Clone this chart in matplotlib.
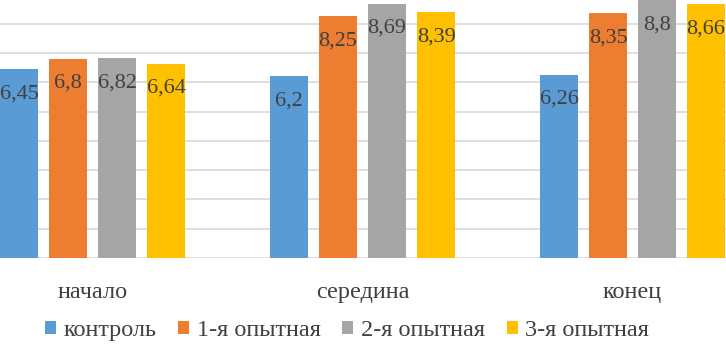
import numpy as np
import matplotlib
matplotlib.use("Agg")
import matplotlib.pyplot as plt

FONT = 'Liberation Serif'
plt.rcParams['font.family'] = FONT

categories = ["начало", "середина", "конец"]
series_names = ["контроль", "1-я опытная", "2-я опытная", "3-я опытная"]
control = [6.45, 6.2, 6.26]
exp1 = [6.8, 8.25, 8.35]
exp2 = [6.82, 8.69, 8.8]
exp3 = [6.64, 8.39, 8.66]
labels = [["6,45", "6,2", "6,26"],
          ["6,8", "8,25", "8,35"],
          ["6,82", "8,69", "8,8"],
          ["6,64", "8,39", "8,66"]]
colors = ["#5B9BD5", "#ED7D31", "#A5A5A5", "#FFC000"]

fig = plt.figure(figsize=(7.26, 3.44), dpi=100)
ax = fig.add_axes([0, 0.25, 1, 0.75])

x = np.arange(len(categories))
width = 38 / 270
step = 49 / 270

for i, (vals, col) in enumerate(zip([control, exp1, exp2, exp3], colors)):
    pos = x + (i - 1.5) * step
    bars = ax.bar(pos, vals, width, color=col, label=series_names[i], zorder=2)
    for b, txt in zip(bars, labels[i]):
        ax.annotate(txt, (b.get_x() + b.get_width() / 2, b.get_height()),
                    xytext=(0, -15), textcoords='offset pixels',
                    ha='center', va='top', fontsize=16, color='#404040',
                    family=FONT, zorder=3)

ax.set_xlim(-92.5 / 270, (726 - 92.5) / 270)
ax.set_ylim(0, 8.81)
ax.set_yticks(range(0, 9))
ax.yaxis.grid(True, color='#D9D9D9', linewidth=1.2, zorder=0)
ax.set_axisbelow(True)
for s in ax.spines.values():
    s.set_visible(False)
ax.tick_params(axis='y', left=False, labelleft=False)
ax.tick_params(axis='x', bottom=False, pad=14)
ax.set_xticks(x)
ax.set_xticklabels(categories, fontsize=17.5, color='#404040', family=FONT)

fig.legend(loc='center', bbox_to_anchor=(0.478, 0.04), ncol=4, frameon=False,
           prop={'family': FONT, 'size': 17.5}, handlelength=0.45, handleheight=0.45,
           handletextpad=0.3, columnspacing=0.9, labelcolor='#404040')

fig.savefig("out.png", dpi=100)
